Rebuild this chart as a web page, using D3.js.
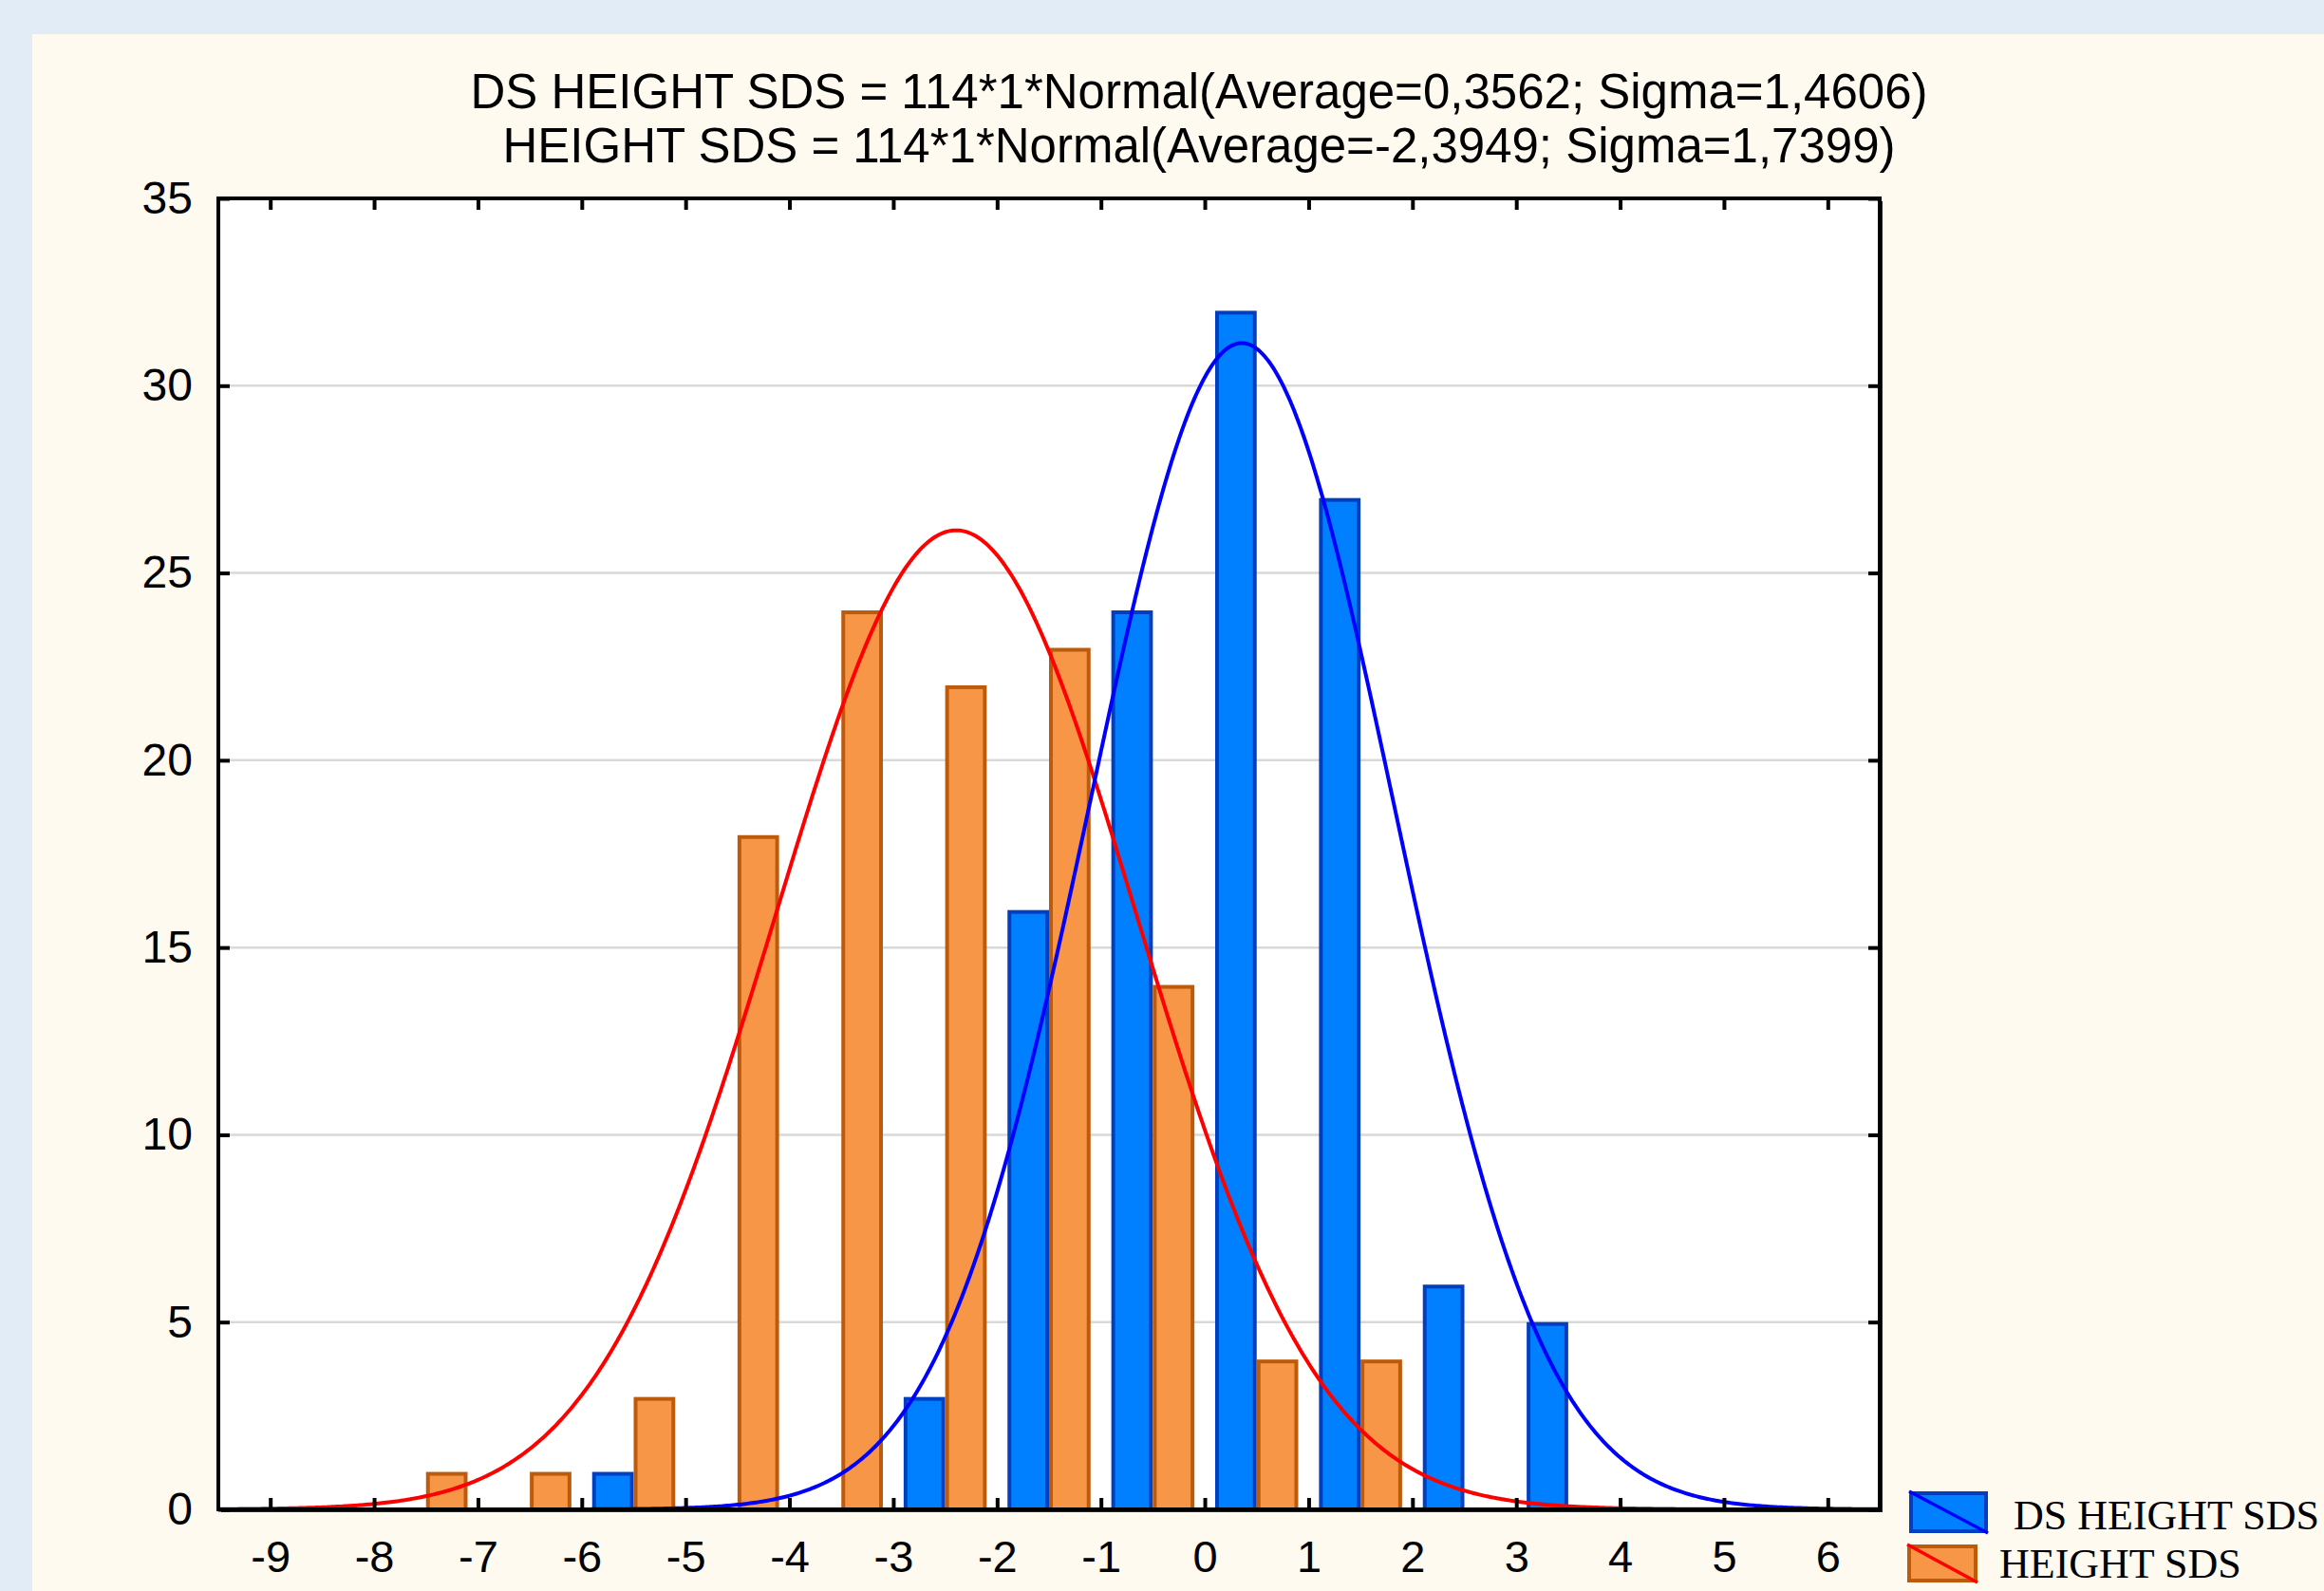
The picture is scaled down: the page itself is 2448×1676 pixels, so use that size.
<!DOCTYPE html>
<html>
<head>
<meta charset="utf-8">
<script src="https://cdn.jsdelivr.net/npm/d3@7"></script>
<style>
  body { margin: 0; background: #e1ecf7; }
  svg { display: block; }
</style>
</head>
<body>
<div id="chart"></div>
<script>
// histogram bins (bin centres), counts per group
const binCenters = [-7.5, -6.5, -5.5, -4.5, -3.5, -2.5, -1.5, -0.5, 0.5, 1.5, 2.5, 3.5];
const dsCounts     = [0, 0, 1, 0, 0, 3, 16, 24, 32, 27, 6, 5];   // DS HEIGHT SDS
const heightCounts = [1, 1, 3, 18, 24, 22, 23, 14, 4, 4, 0, 0];  // HEIGHT SDS

// fitted normal curves, as given in the title
const seriesNames = ["DS HEIGHT SDS", "HEIGHT SDS"];
const fitN = [114, 114];
const fitMean = [0.3562, -2.3949];
const fitSigma = [1.4606, 1.7399];
const titleLines = [
  "DS HEIGHT SDS = 114*1*Normal(Average=0,3562; Sigma=1,4606)",
  "HEIGHT SDS = 114*1*Normal(Average=-2,3949; Sigma=1,7399)"
];

const xTicks = d3.range(-9, 7);
const yTicks = [0, 5, 10, 15, 20, 25, 30, 35];

const width = 2448, height = 1676;
const margin = { left: 230, right: 468, top: 209, bottom: 86 };

const svg = d3.select("#chart")
  .append("svg")
  .attr("width", width)
  .attr("height", height);

// cream panel
svg.append("rect")
  .attr("x", 34).attr("y", 36)
  .attr("width", width - 34).attr("height", height - 36)
  .attr("fill", "#fefaef");

const xScale = d3.scaleLinear()
  .domain([-9.5, 6.5])
  .range([margin.left, width - margin.right]);

const yScale = d3.scaleLinear()
  .domain([0, 35])
  .range([height - margin.bottom, margin.top]);

const plotW = xScale(6.5) - xScale(-9.5);
const plotH = yScale(0) - yScale(35);

// plot background + small shadow
svg.append("rect")
  .attr("x", margin.left + 3).attr("y", margin.top + 3)
  .attr("width", plotW).attr("height", plotH)
  .attr("fill", "#222");
svg.append("rect")
  .attr("x", margin.left).attr("y", margin.top)
  .attr("width", plotW).attr("height", plotH)
  .attr("fill", "#ffffff");

// grid lines
svg.append("g")
  .selectAll("line")
  .data(yTicks.filter(d => d > 0 && d < 35))
  .enter()
  .append("line")
  .attr("x1", margin.left).attr("x2", margin.left + plotW)
  .attr("y1", d => yScale(d)).attr("y2", d => yScale(d))
  .attr("stroke", "#d9d9d9")
  .attr("stroke-width", 2.5);

// bars
const barW = 0.4;
const dsBars = binCenters.map((c, i) => ({ c: c, v: dsCounts[i] })).filter(d => d.v > 0);
const htBars = binCenters.map((c, i) => ({ c: c, v: heightCounts[i] })).filter(d => d.v > 0);

svg.append("g")
  .selectAll("rect")
  .data(dsBars)
  .enter()
  .append("rect")
  .attr("x", d => xScale(d.c - barW) + 2)
  .attr("y", d => yScale(d.v) + 2)
  .attr("width", d => xScale(d.c) - xScale(d.c - barW) - 4)
  .attr("height", d => yScale(0) - yScale(d.v) - 2)
  .attr("fill", "#0080ff")
  .attr("stroke", "#0040c0")
  .attr("stroke-width", 4);

svg.append("g")
  .selectAll("rect")
  .data(htBars)
  .enter()
  .append("rect")
  .attr("x", d => xScale(d.c) + 2)
  .attr("y", d => yScale(d.v) + 2)
  .attr("width", d => xScale(d.c + barW) - xScale(d.c) - 4)
  .attr("height", d => yScale(0) - yScale(d.v) - 2)
  .attr("fill", "#f79646")
  .attr("stroke", "#bd5b0d")
  .attr("stroke-width", 4);

// normal curves
const xs = d3.range(-9.5, 6.5001, 0.02);
const curveColors = ["#0000ff", "#ff0000"];
const line = d3.line()
  .x(d => xScale(d[0]))
  .y(d => yScale(d[1]));

[1, 0].forEach(k => {
  const pts = xs.map(x => {
    const z = (x - fitMean[k]) / fitSigma[k];
    return [x, fitN[k] / (fitSigma[k] * Math.sqrt(2 * Math.PI)) * Math.exp(-0.5 * z * z)];
  });
  svg.append("path")
    .datum(pts)
    .attr("d", line)
    .attr("fill", "none")
    .attr("stroke", curveColors[k])
    .attr("stroke-width", 4);
});

// frame
svg.append("rect")
  .attr("x", margin.left).attr("y", margin.top)
  .attr("width", plotW).attr("height", plotH)
  .attr("fill", "none")
  .attr("stroke", "#000")
  .attr("stroke-width", 4);

// axes (ticks point inward)
const tickLen = 12;
svg.append("g")
  .attr("transform", `translate(0,${yScale(0)})`)
  .call(d3.axisBottom(xScale).tickValues(xTicks).tickSize(-tickLen).tickPadding(33)
    .tickFormat(d => String(d)))
  .call(g => g.select(".domain").remove())
  .call(g => g.selectAll("line").attr("stroke-width", 4))
  .attr("font-family", "'Liberation Sans', Arial, sans-serif")
  .attr("font-size", 47);

svg.append("g")
  .attr("transform", `translate(0,${yScale(35)})`)
  .call(d3.axisTop(xScale).tickValues(xTicks).tickSize(-tickLen).tickFormat(""))
  .call(g => g.select(".domain").remove())
  .call(g => g.selectAll("line").attr("stroke-width", 4))

svg.append("g")
  .attr("transform", `translate(${margin.left},0)`)
  .call(d3.axisLeft(yScale).tickValues(yTicks).tickSize(-tickLen).tickPadding(27)
    .tickFormat(d => String(d)))
  .call(g => g.select(".domain").remove())
  .call(g => g.selectAll("line").attr("stroke-width", 4))
  .attr("font-family", "'Liberation Sans', Arial, sans-serif")
  .attr("font-size", 48);

svg.append("g")
  .attr("transform", `translate(${margin.left + plotW},0)`)
  .call(d3.axisRight(yScale).tickValues(yTicks).tickSize(-tickLen).tickFormat(""))
  .call(g => g.select(".domain").remove())
  .call(g => g.selectAll("line").attr("stroke-width", 4));

svg.selectAll(".tick text").attr("fill", "#000");

// title
svg.append("g")
  .selectAll("text")
  .data(titleLines)
  .enter()
  .append("text")
  .attr("x", 1263)
  .attr("y", (d, i) => 114 + i * 57)
  .attr("text-anchor", "middle")
  .attr("font-family", "'Liberation Sans', Arial, sans-serif")
  .attr("font-size", 51)
  .attr("fill", "#000")
  .text(d => d);

// legend
const legend = [
  { name: seriesNames[0], fill: "#0080ff", stroke: "#0040c0", diag: "#0000ff", x: 2011, y: 1571, w: 83, h: 44, tx: 2121, ty: 1611 },
  { name: seriesNames[1], fill: "#f79646", stroke: "#bd5b0d", diag: "#ff0000", x: 2009, y: 1627, w: 74, h: 40, tx: 2106, ty: 1662 }
];
const lg = svg.append("g");
legend.forEach(d => {
  lg.append("rect")
    .attr("x", d.x + 2).attr("y", d.y + 2)
    .attr("width", d.w - 4).attr("height", d.h - 4)
    .attr("fill", d.fill)
    .attr("stroke", d.stroke)
    .attr("stroke-width", 4);
  lg.append("line")
    .attr("x1", d.x).attr("y1", d.y)
    .attr("x2", d.x + d.w).attr("y2", d.y + d.h)
    .attr("stroke", d.diag)
    .attr("stroke-width", 3.5);
  lg.append("text")
    .attr("x", d.tx).attr("y", d.ty)
    .attr("font-family", "'Liberation Serif', 'Times New Roman', serif")
    .attr("font-size", 44)
    .attr("fill", "#000")
    .text(d.name);
});
</script>
</body>
</html>
